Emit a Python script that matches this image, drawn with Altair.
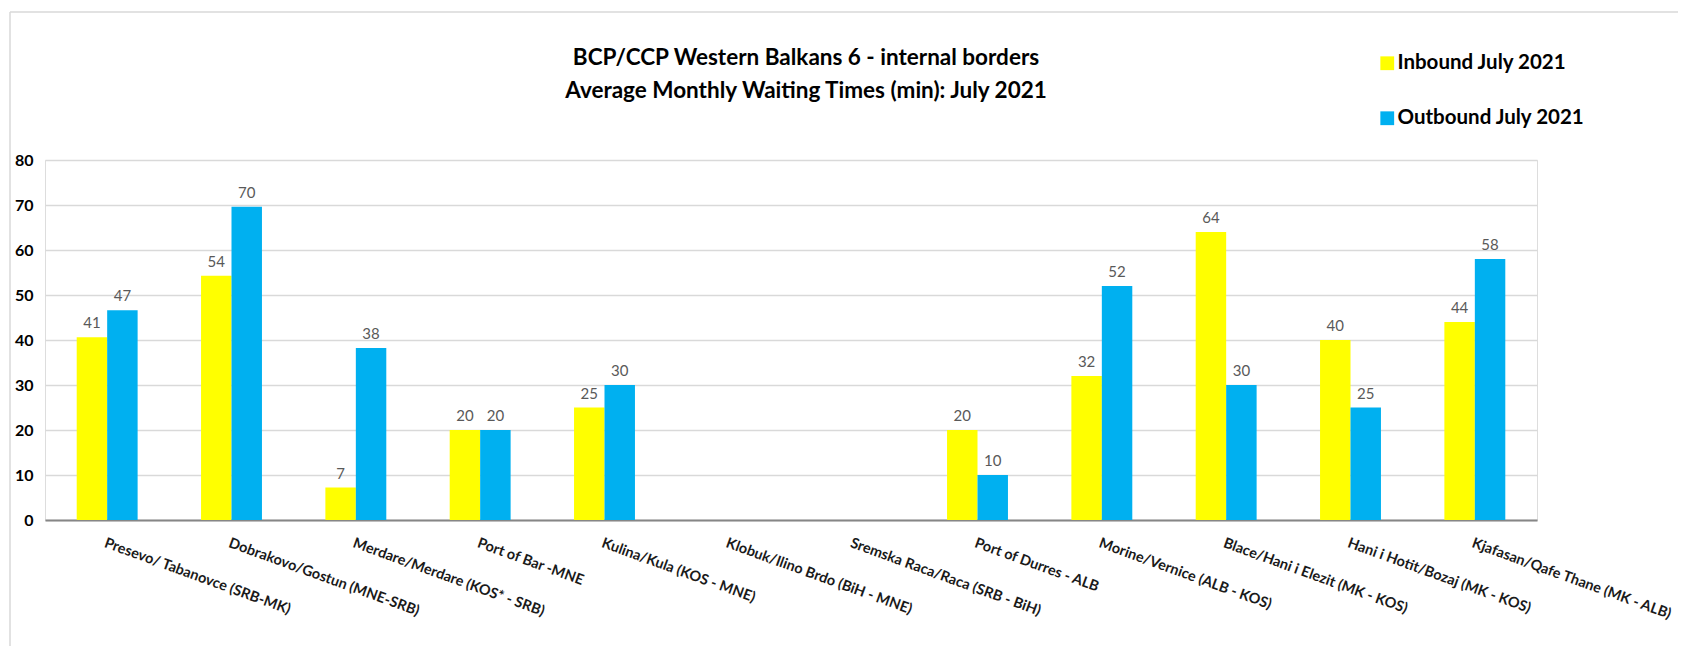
import altair as alt
import pandas as pd

sites = [
    "Presevo/ Tabanovce (SRB-MK)",
    "Dobrakovo/Gostun (MNE-SRB)",
    "Merdare/Merdare (KOS* - SRB)",
    "Port of Bar -MNE",
    "Kulina/Kula (KOS - MNE)",
    "Klobuk/Ilino Brdo (BiH - MNE)",
    "Sremska Raca/Raca (SRB - BiH)",
    "Port of Durres - ALB",
    "Morine/Vernice (ALB - KOS)",
    "Blace/Hani i Elezit (MK - KOS)",
    "Hani i Hotit/Bozaj (MK - KOS)",
    "Kjafasan/Qafe Thane (MK - ALB)",
]
inbound = [40.6, 54.3, 7.2, 20, 25, None, None, 20, 32, 64, 40, 44]
outbound = [46.6, 69.6, 38.2, 20, 30, None, None, 10, 52, 30, 25, 58]
series = ["Inbound July 2021", "Outbound July 2021"]
colors = ["#FFFF00", "#00B0F0"]
title_lines = [
    "BCP/CCP Western Balkans 6 - internal borders",
    "Average Monthly Waiting Times (min): July 2021",
]

rows = []
for s, a, b in zip(sites, inbound, outbound):
    rows.append({"site": s, "series": series[0], "value": a})
    rows.append({"site": s, "series": series[1], "value": b})
df = pd.DataFrame(rows)

FONT = "Lato"

x_scale = alt.Scale(domain=sites, paddingInner=0.51, paddingOuter=0.255)

x_enc = alt.X(
    "site:N",
    sort=sites,
    title=None,
    scale=x_scale,
    axis=alt.Axis(
        labelAngle=20,
        labelAlign="left",
        labelBaseline="top",
        labelPadding=16,
        ticks=False,
        labelFont=FONT,
        labelFontSize=14.5,
        labelFontWeight="bold",
        labelColor="#1a1a1a",
        labelLimit=0,
        labelOverlap=False,
        labelBound=False,
        domainColor="#868686",
        domainWidth=2,
        grid=False,
    ),
)

y_enc = alt.Y(
    "value:Q",
    title=None,
    scale=alt.Scale(domain=[0, 80], nice=False),
    axis=alt.Axis(
        values=[0, 10, 20, 30, 40, 50, 60, 70, 80],
        ticks=False,
        domain=False,
        labelFont=FONT,
        labelFontSize=16,
        labelFontWeight="bold",
        labelColor="#000000",
        labelPadding=12,
        gridColor="#D9D9D9",
        gridWidth=1.3,
    ),
)

base = alt.Chart(df).transform_filter("datum.value != null")

bars = base.mark_bar().encode(
    x=x_enc,
    y=y_enc,
    xOffset=alt.XOffset("series:N", sort=series),
    color=alt.Color(
        "series:N",
        sort=series,
        scale=alt.Scale(domain=series, range=colors),
        legend=alt.Legend(
            title=None,
            orient="none",
            legendX=1332,
            legendY=-107,
            symbolType="square",
            symbolSize=190,
            symbolStrokeWidth=0,
            labelFont=FONT,
            labelFontSize=20.5,
            labelFontWeight="bold",
            labelColor="#000000",
            labelOffset=0,
            labelLimit=0,
            rowPadding=34,
        ),
    ),
)

labels = base.mark_text(
    baseline="bottom", dy=-6, font=FONT, fontSize=15, color="#595959"
).encode(
    x=alt.X("site:N", sort=sites, scale=x_scale),
    y="value:Q",
    xOffset=alt.XOffset("series:N", sort=series),
    text=alt.Text("value:Q", format=".0f"),
)

border_data = alt.Data(values=[{"k": 1}])
border_top = alt.Chart(border_data).mark_rule(color="#D9D9D9", strokeWidth=1.5).encode(
    x=alt.value(-35), x2=alt.value(1640), y=alt.value(-148)
)
border_left = alt.Chart(border_data).mark_rule(color="#D9D9D9", strokeWidth=1.5).encode(
    x=alt.value(-35), y=alt.value(-148), y2=alt.value(500)
)

chart = (
    alt.layer(border_top, border_left, bars, labels)
    .properties(
        width=1492,
        height=360,
        padding={"left": 37, "top": 152, "right": 141, "bottom": 126},
        autosize=alt.AutoSizeParams(type="none"),
        title=alt.TitleParams(
            title_lines,
            anchor="middle",
            frame="group",
            font=FONT,
            fontSize=22.5,
            fontWeight="bold",
            color="#000000",
            lineHeight=33,
            offset=-91,
            dx=15,
        ),
    )
    .configure_view(strokeWidth=0, stroke="transparent")
    .configure(background="white")
)

chart.save("out.html", embed_options={"renderer": "svg", "actions": False})
